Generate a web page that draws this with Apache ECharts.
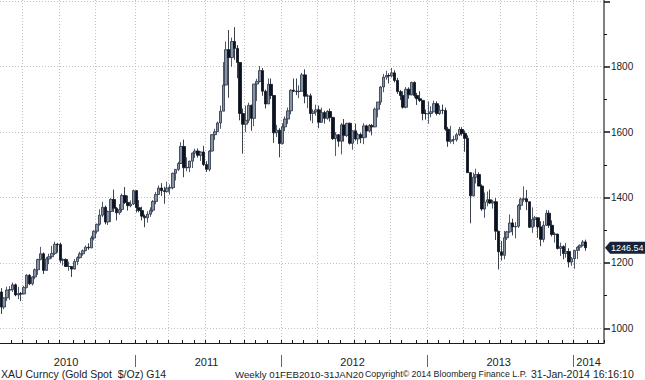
<!DOCTYPE html>
<html><head><meta charset="utf-8">
<script src="https://cdn.jsdelivr.net/npm/echarts@6/dist/echarts.min.js"></script>
<style>html,body{margin:0;padding:0;background:#fff}#c{width:645px;height:380px}</style>
</head><body><div id="c"></div>
<script>
// ---- data (weekly XAU OHLC, rows = [open, high, low, close]) ----
const firstWeek = '2010-02-05';
const padWeeks = 6;
const ohlc2010 = [
[1111,1123,1044,1065],[1065,1095,1058,1093],[1093,1127,1083,1117],[1117,1129,1087,1118],
[1118,1140,1111,1133],[1133,1137,1098,1102],[1102,1127,1089,1106],[1106,1111,1083,1105],
[1105,1130,1104,1125],[1125,1166,1122,1162],[1162,1166,1132,1136],[1136,1159,1131,1157],
[1157,1183,1150,1179],[1179,1213,1163,1210],[1210,1249,1208,1228],[1228,1232,1166,1177],
[1177,1218,1177,1212],[1212,1228,1196,1219],[1219,1252,1213,1229],[1229,1265,1224,1257],
[1257,1261,1231,1256],[1256,1262,1200,1208],[1208,1214,1192,1210],[1210,1214,1188,1189],
[1189,1204,1176,1189],[1189,1190,1157,1181],[1181,1212,1180,1204],[1204,1220,1193,1216],
[1216,1234,1213,1228],[1228,1241,1222,1237],[1237,1253,1236,1248],[1248,1260,1240,1246],
[1246,1283,1245,1276],[1276,1300,1269,1297],[1297,1320,1289,1318],[1318,1364,1314,1346],
[1346,1387,1340,1370],[1370,1375,1318,1325],[1325,1360,1316,1357],[1357,1398,1325,1394],
[1394,1424,1356,1367],[1367,1371,1330,1353],[1353,1380,1347,1363],[1363,1412,1355,1406],
[1406,1432,1380,1385],[1385,1406,1360,1375],[1375,1391,1370,1380],[1380,1424,1377,1421]
];
const ohlc2011 = [
[1421,1423,1354,1369],[1369,1392,1355,1360],[1360,1372,1330,1343],[1343,1348,1309,1338],
[1338,1358,1323,1349],[1349,1370,1341,1361],[1361,1392,1355,1388],[1388,1417,1379,1409],
[1409,1437,1408,1429],[1429,1444,1405,1421],[1421,1433,1381,1418],[1418,1448,1415,1429],
[1429,1440,1409,1430],[1430,1476,1425,1474],[1474,1486,1452,1486],[1486,1509,1481,1504],
[1504,1569,1503,1556],[1556,1577,1462,1491],[1491,1523,1480,1492],[1492,1513,1478,1511],
[1511,1537,1490,1536],[1536,1549,1521,1542],[1542,1550,1522,1529],[1529,1541,1512,1539],
[1539,1558,1496,1501],[1501,1511,1478,1486],[1486,1545,1480,1542],[1542,1594,1541,1592],
[1592,1610,1576,1601],[1601,1632,1601,1628],[1628,1681,1610,1664],[1664,1814,1664,1744],
[1744,1877,1743,1852],[1852,1912,1705,1828],[1828,1889,1800,1877],[1877,1921,1821,1856],
[1856,1866,1765,1813],[1813,1813,1636,1657],[1657,1672,1534,1624],[1624,1681,1600,1636],
[1636,1690,1628,1682],[1682,1684,1604,1642],[1642,1747,1618,1747],[1747,1763,1695,1755],
[1755,1802,1752,1788],[1788,1796,1711,1725],[1725,1730,1672,1686],[1686,1764,1686,1746],
[1746,1764,1701,1712],[1712,1713,1567,1598],[1598,1622,1585,1606],[1606,1612,1523,1565]
];
const ohlc2012 = [
[1565,1627,1562,1616],[1616,1648,1603,1640],[1640,1675,1625,1665],[1665,1731,1654,1728],
[1728,1764,1723,1725],[1725,1764,1713,1724],[1724,1743,1704,1725],[1725,1781,1725,1775],
[1775,1792,1688,1710],[1710,1716,1673,1711],[1711,1718,1635,1657],[1657,1670,1627,1662],
[1662,1684,1650,1668],[1668,1681,1612,1630],[1630,1675,1629,1660],[1660,1665,1626,1642],
[1642,1667,1638,1663],[1663,1672,1632,1645],[1645,1646,1576,1580],[1580,1600,1527,1592],
[1592,1594,1555,1572],[1572,1628,1532,1622],[1622,1640,1571,1590],[1590,1628,1585,1627],
[1627,1629,1562,1566],[1566,1605,1546,1604],[1604,1626,1574,1579],[1579,1597,1563,1592],
[1592,1598,1566,1583],[1583,1627,1563,1619],[1619,1623,1583,1603],[1603,1625,1599,1620],
[1620,1625,1590,1616],[1616,1675,1615,1670],[1670,1692,1645,1692],[1692,1741,1683,1738],
[1738,1778,1722,1768],[1768,1788,1760,1773],[1773,1780,1749,1772],[1772,1796,1767,1781],
[1781,1789,1752,1758],[1758,1766,1717,1724],[1724,1729,1698,1712],[1712,1725,1672,1676],
[1676,1738,1673,1731],[1731,1737,1702,1714],[1714,1754,1712,1752],[1752,1755,1705,1712],
[1712,1720,1683,1702],[1702,1725,1692,1697],[1697,1698,1636,1657],[1657,1669,1638,1656]
];
const ohlc2013 = [
[1656,1694,1626,1657],[1657,1679,1645,1662],[1662,1696,1661,1687],[1687,1694,1651,1657],
[1657,1682,1652,1667],[1667,1684,1655,1666],[1666,1675,1604,1609],[1609,1616,1555,1572],
[1572,1619,1565,1576],[1576,1589,1563,1577],[1577,1597,1571,1592],[1592,1616,1588,1608],
[1608,1615,1589,1596],[1596,1605,1540,1581],[1581,1590,1475,1476],[1476,1478,1321,1405],
[1405,1476,1403,1462],[1462,1488,1443,1470],[1470,1477,1434,1435],[1435,1440,1359,1365],
[1365,1415,1338,1386],[1386,1418,1373,1393],[1393,1424,1380,1383],[1383,1393,1366,1387],
[1387,1398,1270,1297],[1297,1298,1180,1234],[1234,1267,1207,1223],[1223,1298,1211,1277],
[1277,1298,1270,1295],[1295,1348,1292,1322],[1322,1335,1284,1310],[1310,1325,1275,1312],
[1312,1380,1307,1376],[1376,1400,1362,1395],[1395,1434,1387,1396],[1396,1423,1361,1387],
[1387,1387,1307,1309],[1309,1370,1292,1333],[1333,1344,1311,1338],[1338,1339,1277,1310],
[1310,1327,1251,1272],[1272,1328,1263,1315],[1315,1362,1313,1352],[1352,1361,1307,1315],
[1315,1330,1281,1287],[1287,1294,1262,1288],[1288,1289,1241,1244],[1244,1262,1221,1250],
[1250,1254,1211,1229],[1229,1261,1216,1235],[1235,1245,1186,1203],[1203,1218,1191,1213]
];
const ohlc2014 = [
[1213,1240,1182,1238],[1238,1251,1212,1248],[1248,1256,1237,1254],[1254,1270,1250,1264],
[1264,1271,1237,1246.54]
];
const yMajorTicks = [1000,1200,1400,1600,1800,2000];
const yMinorTicks = [1100,1300,1500,1700,1900];
const yLabels = [1000,1200,1400,1600,1800];
const yMin = 955, yMax = 2004;
const footerLeft = 'XAU Curncy (Gold Spot  $/Oz) G14';
const footerRange = 'Weekly 01FEB2010-31JAN20';
const footerCopy = 'Copyright\u00A9 2014 Bloomberg Finance L.P.';
const footerStamp = '31-Jan-2014 16:16:10';

// ---- build ----
const rows = [].concat(ohlc2010, ohlc2011, ohlc2012, ohlc2013, ohlc2014);
const candleData = rows.map(r => [r[0], r[3], r[2], r[1]]);
const lastClose = rows[rows.length - 1][3];
const categories = [];
const t0 = Date.parse(firstWeek + 'T00:00:00Z');
for (let i = 0; i < rows.length + padWeeks; i++) {
  categories.push(new Date(t0 + i * 7 * 86400000).toISOString().slice(0, 10));
}
const years = categories.map(d => d.slice(0, 4));
const months = categories.map(d => +d.slice(5, 7));
const isMonthStart = i => i > 0 && months[i] !== months[i - 1];
const isQuarterStart = i => isMonthStart(i) && (months[i] - 1) % 3 === 0;
const isYearStart = i => i > 0 && years[i] !== years[i - 1];
const yearIdx = {};
years.forEach((y, i) => { (yearIdx[y] = yearIdx[y] || []).push(i); });
const yearMid = new Set(Object.values(yearIdx).map(a => Math.floor((a[0] + a[a.length - 1]) / 2)));

const FONT = 'Liberation Sans';
const chart = echarts.init(document.getElementById('c'), null, {renderer: 'svg', width: 645, height: 380});
const grid = {left: -2, right: 41, top: 0, bottom: 37};
chart.setOption({
  animation: false,
  backgroundColor: '#ffffff',
  grid: grid,
  xAxis: [{
    type: 'category', data: categories, boundaryGap: true,
    axisLine: {show: true, onZero: false, lineStyle: {color: '#1a1a1a', width: 1}},
    axisTick: {show: true, inside: true, length: 3, interval: (i) => isMonthStart(i), lineStyle: {color: '#1a1a1a'}},
    axisLabel: {show: true, interval: (i) => yearMid.has(i), formatter: (v) => v.slice(0, 4),
      margin: 13, fontSize: 11, color: '#222', fontFamily: FONT},
    splitLine: {show: true, interval: (i) => isQuarterStart(i), lineStyle: {color: '#c2c2c2', type: [1, 2], width: 1}}
  }],
  yAxis: [{
    type: 'value', position: 'right', min: yMin, max: yMax,
    axisLine: {show: true, lineStyle: {color: '#808080', width: 2}},
    axisTick: {show: true, customValues: yMajorTicks, length: 6, lineStyle: {color: '#111', width: 1.5}},
    axisLabel: {show: true, customValues: yLabels, formatter: (v) => String(v), margin: 7, fontSize: 10, color: '#222', fontFamily: FONT},
    splitLine: {show: true, lineStyle: {color: '#c2c2c2', type: [1, 2], width: 1}}
  }, {
    type: 'value', position: 'right', min: yMin, max: yMax,
    axisLine: {show: false},
    axisTick: {show: true, customValues: yMinorTicks, length: 3, lineStyle: {color: '#111', width: 1}},
    axisLabel: {show: false}, splitLine: {show: false}
  }],
  series: [{
    type: 'candlestick', data: candleData, barWidth: 3,
    itemStyle: {color: '#8793a4', color0: '#0b1320', borderColor: '#263142', borderColor0: '#0b1320', borderWidth: 0.8}
  }]
});

const graphics = [];
categories.forEach((c, i) => {
  if (isYearStart(i)) {
    const x = (chart.convertToPixel({xAxisIndex: 0}, categories[i - 1]) + chart.convertToPixel({xAxisIndex: 0}, c)) / 2;
    graphics.push({type: 'line', shape: {x1: Math.round(x) + 0.5, y1: 355, x2: Math.round(x) + 0.5, y2: 367}, style: {stroke: '#666', lineWidth: 1}});
  }
});
const py = chart.convertToPixel({yAxisIndex: 0}, lastClose);
const ax = 645 - grid.right;
graphics.push({type: 'polygon', shape: {points: [[ax + 1, py], [ax + 6, py - 6], [645, py - 6], [645, py + 6], [ax + 6, py + 6]]}, style: {fill: '#15233b'}});
graphics.push({type: 'text', x: ax + 7, y: py, style: {text: String(lastClose), fill: '#fff', font: '9px ' + FONT, verticalAlign: 'middle', textAlign: 'left'}});
const fy = 374;
graphics.push({type: 'text', x: 1, y: fy, style: {text: footerLeft, fill: '#222', font: '10.5px ' + FONT, verticalAlign: 'middle'}});
graphics.push({type: 'text', x: 235, y: fy, style: {text: footerRange, fill: '#222', font: '9.7px ' + FONT, verticalAlign: 'middle'}});
graphics.push({type: 'text', x: 365, y: fy, style: {text: footerCopy, fill: '#222', font: '8.8px ' + FONT, verticalAlign: 'middle'}});
graphics.push({type: 'text', x: 531, y: fy, style: {text: footerStamp, fill: '#222', font: '10.5px ' + FONT, verticalAlign: 'middle', textAlign: 'left'}});
chart.setOption({graphic: graphics});
</script>
</body></html>
